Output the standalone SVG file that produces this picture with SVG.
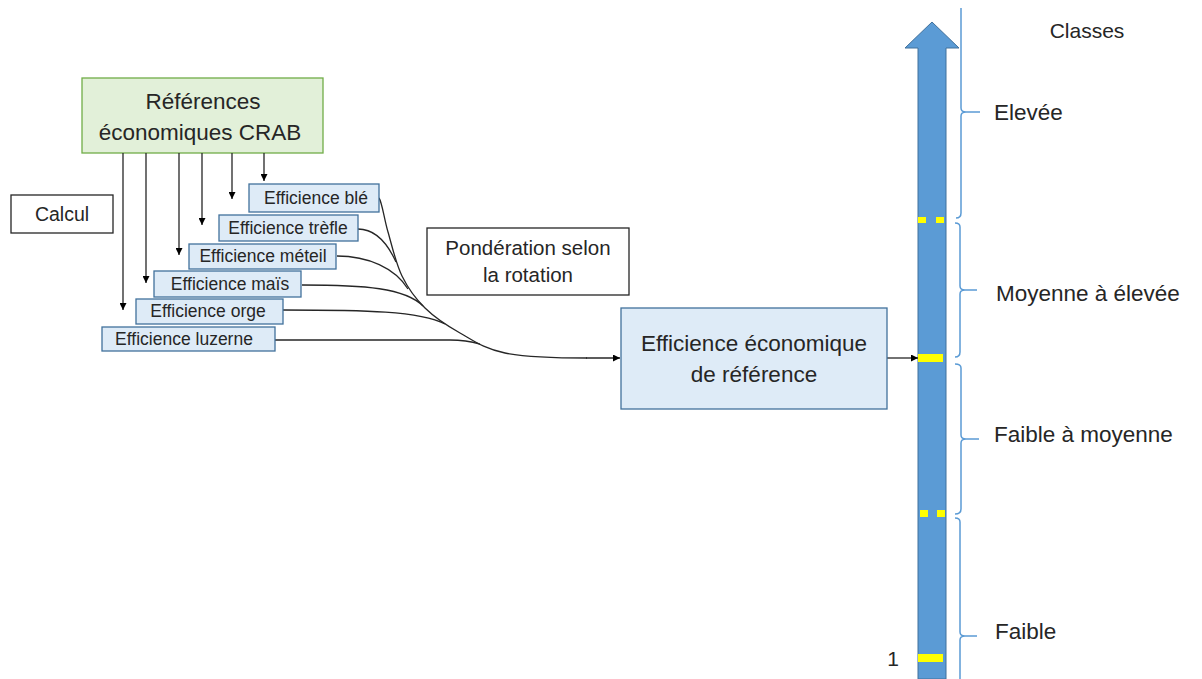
<svg xmlns="http://www.w3.org/2000/svg" width="1202" height="679" viewBox="0 0 1202 679">
<style>
text{font-family:"Liberation Sans",Arial,sans-serif;fill:#262626;text-anchor:middle;dominant-baseline:central}
.eff rect{fill:#DEEBF7;stroke:#41719C;stroke-width:1.3}
.eff text{font-size:17.5px}
.ln{fill:none;stroke:#262626;stroke-width:1.3}
.br{fill:none;stroke:#5B9BD5;stroke-width:1.5}
.lbl{text-anchor:start;font-size:22.5px}
.yl{fill:#FFFF00}
</style>
<defs>
<marker id="ah" viewBox="0 0 10 10" refX="10" refY="5" markerWidth="7" markerHeight="7" markerUnits="userSpaceOnUse" orient="auto">
<path d="M0,0 L10,5 L0,10 z" fill="#000"/>
</marker>
</defs>

<g id="scale">
<polygon points="932,22 959,48 946,48 946,679 918,679 918,48 905,48" fill="#5B9BD5" stroke="#41719C" stroke-width="1"/>
<rect class="yl" x="918" y="217" width="8" height="6"/>
<rect class="yl" x="936" y="217" width="8" height="6"/>
<rect class="yl" x="918" y="354" width="25" height="8"/>
<rect class="yl" x="920" y="510" width="8" height="7"/>
<rect class="yl" x="937" y="510" width="8" height="7"/>
<rect class="yl" x="918" y="654" width="25" height="8"/>
<text x="893" y="658" font-size="21">1</text>
</g>

<g id="braces">
<path class="br" d="M961,8 L961,108 Q961,112 966,112 L980,112 M966,112 Q961,112 961,116 L961,213 Q961,218 956,218"/>
<path class="br" d="M955,223 Q960,223 960,227 L960,286 Q960,290 965,290 L977,290 M965,290 Q960,290 960,294 L960,352 Q960,357 955,357"/>
<path class="br" d="M955,364 Q961,364 961,368 L961,435 Q961,439 966,439 L979,439 M966,439 Q961,439 961,443 L961,509 Q961,514 955,514"/>
<path class="br" d="M955,518 Q960,518 960,522 L960,632 Q960,636 965,636 L977,636 M965,636 Q960,636 960,640 L960,679"/>
</g>

<g id="labels">
<text x="1087" y="30" font-size="21">Classes</text>
<text class="lbl" x="994" y="112">Elevée</text>
<text class="lbl" x="996" y="293">Moyenne à élevée</text>
<text class="lbl" x="994" y="434">Faible à moyenne</text>
<text class="lbl" x="995" y="631">Faible</text>
</g>

<g id="crab">
<rect x="82" y="78" width="241" height="75" fill="#E2F0D9" stroke="#70AD47" stroke-width="1.3"/>
<text x="203" y="101" font-size="22.5">Références</text>
<text x="200" y="132" font-size="22.5">économiques CRAB</text>
</g>

<g id="calcul">
<rect x="11" y="195" width="102" height="38" fill="#fff" stroke="#262626" stroke-width="1.3"/>
<text x="62" y="214" font-size="19.5">Calcul</text>
</g>

<g id="ponderation">
<rect x="427" y="228" width="202" height="67" fill="#fff" stroke="#262626" stroke-width="1.3"/>
<text x="528" y="247" font-size="20.5">Pondération selon</text>
<text x="528" y="274" font-size="20.5">la rotation</text>
</g>

<g id="connectors">
<line class="ln" x1="123" y1="153" x2="123" y2="310" marker-end="url(#ah)"/>
<line class="ln" x1="146" y1="153" x2="146" y2="283" marker-end="url(#ah)"/>
<line class="ln" x1="179" y1="153" x2="179" y2="255" marker-end="url(#ah)"/>
<line class="ln" x1="202" y1="153" x2="202" y2="225" marker-end="url(#ah)"/>
<line class="ln" x1="232" y1="153" x2="232" y2="199" marker-end="url(#ah)"/>
<line class="ln" x1="264" y1="153" x2="264" y2="181" marker-end="url(#ah)"/>
<path class="ln" d="M379,198 C382,202 384.2,219 388,232 C391.8,245 395.8,263.3 402,276 C408.2,288.7 415.3,298.5 425,308 C434.7,317.5 446.7,325.5 460,333 C473.3,340.5 484,348.8 505,353 C526,357.2 560,358 587,358"/>
<path class="ln" d="M358,229 C374,229 386,240 396,262"/>
<path class="ln" d="M337,256 C368,256 395,268 408,289"/>
<path class="ln" d="M302,285 C365,285 405,288 423,306"/>
<path class="ln" d="M283,310 C365,310 420,311 445,324"/>
<path class="ln" d="M275,340 L450,340 C465,340 473,342 480,344"/>
<line class="ln" x1="586" y1="358" x2="620" y2="358" marker-end="url(#ah)"/>
<line class="ln" x1="887" y1="358" x2="918" y2="358" marker-end="url(#ah)"/>
</g>

<g id="eff-ble" class="eff"><rect x="249" y="184" width="130" height="28"/><text x="316" y="198">Efficience blé</text></g>
<g id="eff-trefle" class="eff"><rect x="219" y="215" width="139" height="26"/><text x="288" y="228">Efficience trèfle</text></g>
<g id="eff-meteil" class="eff"><rect x="189" y="244" width="147" height="25"/><text x="263" y="256">Efficience méteil</text></g>
<g id="eff-mais" class="eff"><rect x="154" y="271" width="147" height="26"/><text x="230" y="284">Efficience maïs</text></g>
<g id="eff-orge" class="eff"><rect x="136" y="299" width="147" height="25"/><text x="208" y="311">Efficience orge</text></g>
<g id="eff-luzerne" class="eff"><rect x="102" y="327" width="173" height="24"/><text x="184" y="339">Efficience luzerne</text></g>

<g id="reference">
<rect x="621" y="308" width="266" height="101" fill="#DEEBF7" stroke="#41719C" stroke-width="1.3"/>
<text x="754" y="343" font-size="22.5">Efficience économique</text>
<text x="754" y="374" font-size="22.5">de référence</text>
</g>
</svg>
